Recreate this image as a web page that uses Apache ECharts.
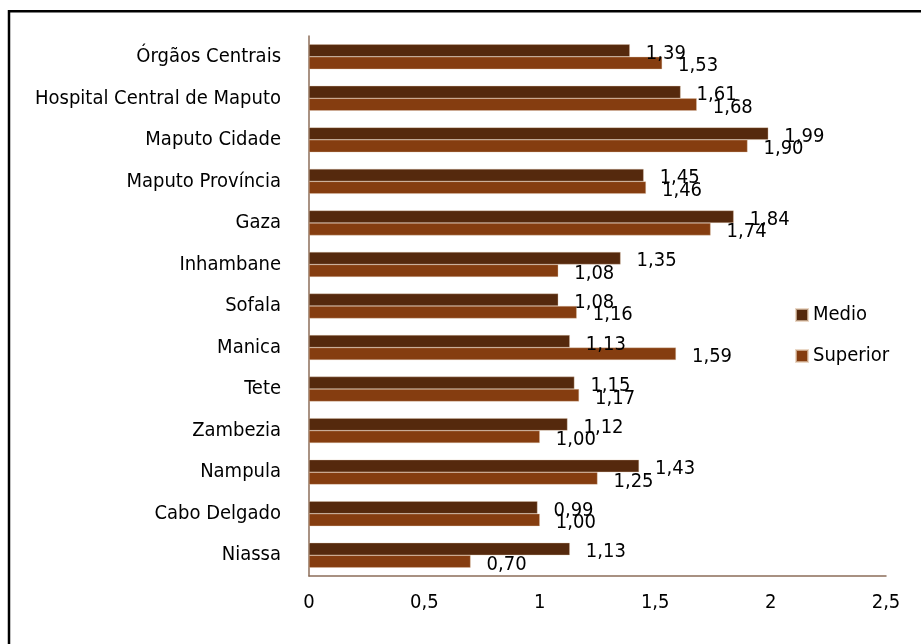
<!DOCTYPE html>
<html>
<head>
<meta charset="utf-8">
<script src="https://cdn.jsdelivr.net/npm/echarts@6/dist/echarts.min.js"></script>
<style>
  html, body { margin: 0; padding: 0; background: #ffffff; }
  #chart { width: 921px; height: 644px; }
</style>
</head>
<body>
<div id="chart"></div>
<script>
// Categories listed top to bottom
const categories = [
  'Órgãos Centrais', 'Hospital Central de Maputo', 'Maputo Cidade', 'Maputo Província',
  'Gaza', 'Inhambane', 'Sofala', 'Manica', 'Tete', 'Zambezia', 'Nampula',
  'Cabo Delgado', 'Niassa'
];
const medio    = [1.39, 1.61, 1.99, 1.45, 1.84, 1.35, 1.08, 1.13, 1.15, 1.12, 1.43, 0.99, 1.13];
const superior = [1.53, 1.68, 1.90, 1.46, 1.74, 1.08, 1.16, 1.59, 1.17, 1.00, 1.25, 1.00, 0.70];
const seriesNames = ['Medio', 'Superior'];
const xTicks = { min: 0, max: 2.5, interval: 0.5 };

const FONT = '"DejaVu Sans Condensed", "DejaVu Sans", sans-serif';
const FONT_SIZE = 20;
const COLORS = ['#55290D', '#853D10'];
const AXIS_COLOR = '#8C6E5A';

const comma = v => String(v).replace('.', ',');
const fmt2 = v => v.toFixed(2).replace('.', ',');

const chart = echarts.init(document.getElementById('chart'), null, { renderer: 'canvas' });

const label = {
  show: true,
  position: 'right',
  distance: 16,
  offset: [0, 3],
  color: '#000',
  fontFamily: FONT,
  fontSize: FONT_SIZE,
  formatter: p => fmt2(p.value)
};

chart.setOption({
  animation: false,
  backgroundColor: '#ffffff',
  textStyle: { fontFamily: FONT },
  grid: { left: 309, right: 35, top: 36, bottom: 68, containLabel: false },
  legend: {
    orient: 'vertical',
    left: 790,
    top: 300,
    itemWidth: 12,
    itemHeight: 12,
    itemGap: 21,
    icon: 'rect',
    textStyle: { fontFamily: FONT, fontSize: FONT_SIZE, color: '#000', lineHeight: 20 },
    data: seriesNames
  },
  xAxis: {
    type: 'value',
    min: xTicks.min,
    max: xTicks.max,
    interval: xTicks.interval,
    axisLine: { show: true, lineStyle: { color: AXIS_COLOR, width: 1.5 } },
    axisTick: { show: false },
    splitLine: { show: false },
    axisLabel: { color: '#000', fontFamily: FONT, fontSize: FONT_SIZE, margin: 17, formatter: comma }
  },
  yAxis: {
    type: 'category',
    inverse: true,
    data: categories,
    axisLine: { show: true, lineStyle: { color: AXIS_COLOR, width: 1.5 } },
    axisTick: { show: false },
    axisLabel: { color: '#000', fontFamily: FONT, fontSize: FONT_SIZE, margin: 28 }
  },
  series: [
    {
      name: seriesNames[0], type: 'bar', data: medio,
      barCategoryGap: '40%', barGap: '0%',
      itemStyle: { color: COLORS[0], borderColor: 'rgba(225,200,175,0.7)', borderWidth: 0.5 },
      label: label
    },
    {
      name: seriesNames[1], type: 'bar', data: superior,
      barCategoryGap: '40%', barGap: '0%',
      itemStyle: { color: COLORS[1], borderColor: 'rgba(225,200,175,0.7)', borderWidth: 0.5 },
      label: label
    }
  ],
  graphic: [
    {
      type: 'rect',
      shape: { x: 9, y: 11.3, width: 960, height: 720 },
      style: { fill: null, stroke: '#000', lineWidth: 2.5 },
      silent: true,
      z: 100
    }
  ]
});
</script>
</body>
</html>
